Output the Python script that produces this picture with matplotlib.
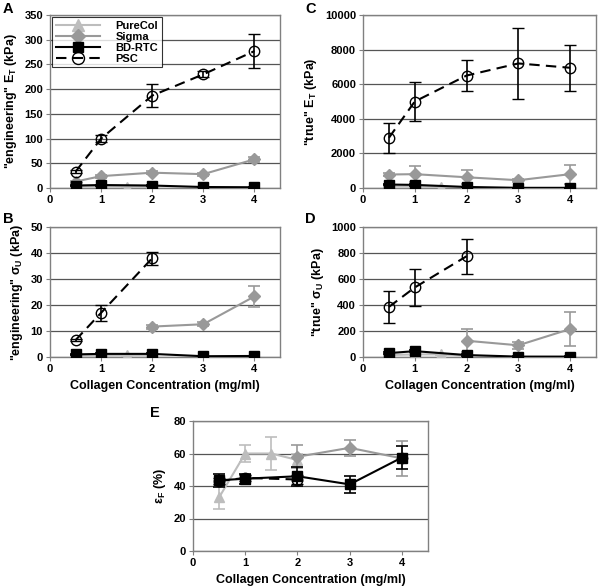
import matplotlib.pyplot as plt
import numpy as np

plt.rcParams['font.family'] = ['Liberation Sans', 'DejaVu Sans']
plt.rcParams['font.weight'] = 'bold'
plt.rcParams['axes.labelweight'] = 'bold'
plt.rcParams['font.size'] = 8
plt.rcParams['mathtext.fontset'] = 'custom'
plt.rcParams['mathtext.rm'] = 'Liberation Sans:bold'
plt.rcParams['mathtext.it'] = 'Liberation Sans:bold'
plt.rcParams['mathtext.bf'] = 'Liberation Sans:bold'
plt.rcParams['mathtext.default'] = 'bf'

# collagen concentrations (mg/ml)
x_purecol = [0.5, 1, 1.5, 2]
x_sigma = [0.5, 1, 2, 3, 4]
x_bd = [0.5, 1, 2, 3, 4]
x_psc = [0.5, 1, 2, 3, 4]

# A: engineering E_T (kPa)
a_purecol = [3, 3, 3, 2]
a_purecol_err = [1, 1, 1, 1]
a_sigma = [13, 24, 31, 28, 58]
a_sigma_err = [2, 3, 3, 3, 5]
a_bd = [5, 6, 5, 2, 1.5]
a_bd_err = [1, 1, 1, 0.5, 0.5]
a_psc = [33, 100, 187, 230, 277]
a_psc_err = [3, 7, 24, 6, 35]

# B: engineering sigma_U (kPa)
b_purecol = [0.5, 0.5, 0.6, 0.5]
b_purecol_err = [0.2, 0.2, 0.2, 0.2]
b_sigma_x = [2, 3, 4]
b_sigma = [11.7, 12.6, 23.3]
b_sigma_err = [0.8, 0.8, 4.2]
b_bd = [1.0, 1.2, 1.2, 0.3, 0.4]
b_bd_err = [0.2, 0.2, 0.2, 0.1, 0.1]
b_psc_x = [0.5, 1, 2]
b_psc = [6.5, 17, 38]
b_psc_err = [0.5, 3, 2.5]

# C: true E_T (kPa)
c_purecol = [100, 80, 60, 40]
c_purecol_err = [30, 30, 20, 20]
c_sigma = [780, 800, 620, 450, 800]
c_sigma_err = [100, 450, 400, 80, 550]
c_bd = [200, 180, 60, 10, 10]
c_bd_err = [50, 50, 20, 5, 5]
c_psc = [2900, 5000, 6500, 7200, 6950]
c_psc_err = [880, 1150, 900, 2030, 1320]

# D: true sigma_U (kPa)
d_purecol = [15, 20, 20, 10]
d_purecol_err = [5, 5, 5, 5]
d_sigma_x = [2, 3, 4]
d_sigma = [125, 90, 215]
d_sigma_err = [90, 25, 130]
d_bd = [30, 45, 15, 3, 3]
d_bd_err = [8, 10, 5, 1, 1]
d_psc_x = [0.5, 1, 2]
d_psc = [385, 535, 775]
d_psc_err = [125, 140, 135]

# E: failure strain (%)
e_purecol = [33, 60, 60, 56]
e_purecol_err = [7, 5.5, 10, 4]
e_sigma_x = [2, 3, 4]
e_sigma = [58, 63.5, 57]
e_sigma_err = [7, 5, 11]
e_bd = [43.5, 44.5, 46, 41, 57.5]
e_bd_err = [4, 3, 6, 5, 7]
e_psc_x = [0.5, 1, 2]
e_psc = [43, 45, 44]
e_psc_err = [2, 2, 3]

LIGHT = '#bdbdbd'
MID = '#999999'


def draw(ax, pc, pc_e, sg_x, sg, sg_e, bd, bd_e, ps_x, ps, ps_e):
    kw = dict(capsize=4, elinewidth=1.2, capthick=1.2, linewidth=1.5)
    ax.errorbar(x_purecol, pc, yerr=pc_e, color=LIGHT, marker='^', markersize=7,
                label='PureCol', zorder=3, **kw)
    ax.errorbar(sg_x, sg, yerr=sg_e, color=MID, marker='D', markersize=6,
                label='Sigma', zorder=4, **kw)
    ax.errorbar(ps_x, ps, yerr=ps_e, color='black', marker='o', markersize=7.5,
                markerfacecolor='none', markeredgecolor='black', markeredgewidth=1,
                linestyle=(0, (5, 3)), label='PSC', zorder=5, **kw)
    ax.errorbar(x_bd, bd, yerr=bd_e, color='black', marker='s', markersize=6.5,
                label='BD-RTC', zorder=6, **kw)


def style(ax, ymax, ystep):
    ax.set_xlim(0, 4.5)
    ax.set_ylim(0, ymax)
    ax.set_xticks([0, 1, 2, 3, 4])
    ax.set_yticks(np.arange(0, ymax + 1, ystep))
    ax.yaxis.grid(True, color='#555555', linewidth=0.9)
    ax.set_axisbelow(True)
    for s in ax.spines.values():
        s.set_color('#808080')
        s.set_linewidth(1)
    ax.tick_params(axis='both', length=3, color='#808080', labelsize=8, pad=2)
    for t in ax.get_xticklabels() + ax.get_yticklabels():
        t.set_fontweight('bold')


W, H = 600, 586
fig = plt.figure(figsize=(W / 100, H / 100), dpi=100)


def add_axes(l, r, t, b):
    return fig.add_axes([l / W, 1 - b / H, (r - l) / W, (b - t) / H])


axA = add_axes(50, 280, 15, 188)
axB = add_axes(50, 280, 227, 357)
axC = add_axes(363, 596, 15, 188)
axD = add_axes(363, 596, 227, 357)
axE = add_axes(193, 428, 421, 551)

draw(axA, a_purecol, a_purecol_err, x_sigma, a_sigma, a_sigma_err,
     a_bd, a_bd_err, x_psc, a_psc, a_psc_err)
draw(axB, b_purecol, b_purecol_err, b_sigma_x, b_sigma, b_sigma_err,
     b_bd, b_bd_err, b_psc_x, b_psc, b_psc_err)
draw(axC, c_purecol, c_purecol_err, x_sigma, c_sigma, c_sigma_err,
     c_bd, c_bd_err, x_psc, c_psc, c_psc_err)
draw(axD, d_purecol, d_purecol_err, d_sigma_x, d_sigma, d_sigma_err,
     d_bd, d_bd_err, d_psc_x, d_psc, d_psc_err)
draw(axE, e_purecol, e_purecol_err, e_sigma_x, e_sigma, e_sigma_err,
     e_bd, e_bd_err, e_psc_x, e_psc, e_psc_err)

style(axA, 350, 50)
style(axB, 50, 10)
style(axC, 10000, 2000)
style(axD, 1000, 200)
style(axE, 80, 20)

lab = dict(fontsize=9, fontweight='bold')
axA.set_ylabel('"engineering" E$_T$ (kPa)', **lab)
axB.set_ylabel('"engineering" σ$_U$ (kPa)', **lab)
axC.set_ylabel('"true" E$_T$ (kPa)', **lab)
axD.set_ylabel('"true" σ$_U$ (kPa)', **lab)
axE.set_ylabel('ε$_F$ (%)', **lab)
for ax in (axB, axD, axE):
    ax.set_xlabel('Collagen Concentration (mg/ml)', labelpad=4, **lab)

# legend shows line + marker only, no error bars
handles, labels = axA.get_legend_handles_labels()
order = [labels.index(n) for n in ['PureCol', 'Sigma', 'BD-RTC', 'PSC']]
leg = axA.legend([handles[i][0] for i in order], [labels[i] for i in order],
                 loc='upper left', frameon=True, fancybox=False,
                 prop={'size': 8, 'weight': 'bold'}, markerscale=1.15,
                 handlelength=4, borderaxespad=0.2, labelspacing=0.1,
                 handletextpad=1.4, borderpad=0.3)
leg.get_frame().set_edgecolor('black')
leg.get_frame().set_linewidth(0.8)

for lbl, (px, py) in zip('ABCDE', [(3, 2), (3, 212), (305, 2), (305, 212), (150, 406)]):
    fig.text(px / W, 1 - py / H, lbl, fontsize=10.5, fontweight='bold', va='top')

fig.savefig('out.png', dpi=100)
